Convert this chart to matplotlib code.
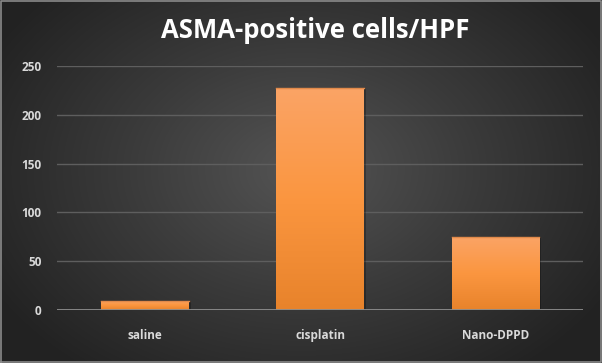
import numpy as np
import matplotlib
matplotlib.use("Agg")
import matplotlib.pyplot as plt
from matplotlib.colors import LinearSegmentedColormap

plt.rcParams['font.family'] = ['Open Sans', 'DejaVu Sans']

categories = ["saline", "cisplatin", "Nano-DPPD"]
values = [9.5, 227.5, 75]
yticks = [0, 50, 100, 150, 200, 250]
title = "ASMA-positive cells/HPF"

fig = plt.figure(figsize=(6.02, 3.63), dpi=100)

# dark radial background
bg = fig.add_axes([0, 0, 1, 1], zorder=-5)
yy, xx = np.mgrid[0:363, 0:602]
r = np.sqrt(((xx - 301) / 420.0) ** 2 + ((yy - 170) / 300.0) ** 2)
bg_cmap = LinearSegmentedColormap.from_list("bg", ["#545454", "#3a3a3a", "#222222"])
bg.imshow(r, cmap=bg_cmap, vmin=0, vmax=0.85, aspect="auto", extent=[0, 1, 0, 1])
bg.set_xlim(0, 1)
bg.set_ylim(0, 1)
bg.axis("off")
# thin border
bg.plot([0.002, 0.998, 0.998, 0.002, 0.002], [0.003, 0.003, 0.997, 0.997, 0.003],
        color="#8a8a8a", lw=1.2)

ax = fig.add_axes([57 / 602, (363 - 310) / 363, 526 / 602, 244 / 363])
ax.patch.set_alpha(0)
x = np.arange(len(categories))

# soft shadow to the right of the bars
ax.bar(x + 0.012, values, width=0.5, color="black", alpha=0.25, zorder=2)
bars = ax.bar(x, values, width=0.5, color="#f7953f", zorder=3)

# vertical gradient on bars
bar_cmap = LinearSegmentedColormap.from_list("bar", ["#e8832b", "#fb9640", "#faa466"])
grad = np.linspace(0, 1, 256).reshape(-1, 1)
for b in bars:
    x0, y0 = b.get_x(), b.get_y()
    w, h = b.get_width(), b.get_height()
    im = ax.imshow(grad, cmap=bar_cmap, aspect="auto", origin="lower",
                   extent=[x0, x0 + w, y0, y0 + h], zorder=4)
    im.set_clip_path(b)
    ax.plot([x0, x0 + w], [y0 + h, y0 + h], color="#e0894a", lw=1, zorder=5)

ax.set_xlim(-0.5, 2.5)
ax.set_ylim(0, 250)
ax.set_yticks(yticks)
ax.set_xticks(x)
ax.set_xticklabels(categories)
for s in ax.spines.values():
    s.set_visible(False)
ax.grid(axis="y", color="#5e5e5e", lw=1, zorder=0)
ax.axhline(0, color="#8c8c8c", lw=1.3, zorder=6)
ax.tick_params(length=0, colors="#d9d9d9", labelsize=8.5)
ax.tick_params(axis="y", pad=11)
ax.tick_params(axis="x", pad=14)
for lab in ax.get_xticklabels() + ax.get_yticklabels():
    lab.set_fontweight("bold")

fig.text(315 / 602, 1 - 38.5 / 363, title, ha="center", va="baseline", color="white",
         fontsize=18.5, fontweight="bold")

fig.savefig("out.png", dpi=100)
